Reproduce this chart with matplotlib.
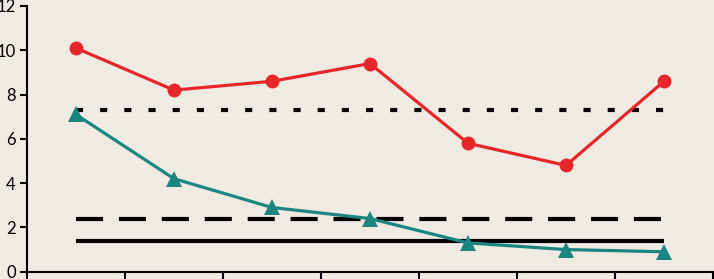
import matplotlib.pyplot as plt
import numpy as np

# values
categories = ["1", "2", "3", "4", "5", "6", "7"]
red_values = [10.1, 8.2, 8.6, 9.4, 5.8, 4.8, 8.6]
teal_values = [7.1, 4.2, 2.9, 2.4, 1.3, 1.0, 0.9]
dotted_level = 7.3
dashed_level = 2.4
solid_level = 1.4
y_ticks = [0, 2, 4, 6, 8, 10, 12]

bg = "#efebe3"
red = "#e8262a"
teal = "#1b8582"

plt.rcParams["font.family"] = ["Lato", "DejaVu Sans"]

fig = plt.figure(figsize=(7.14, 2.79), dpi=100, facecolor=bg)
ax = fig.add_axes([27 / 714, 7.3 / 279, 686 / 714, 265.7 / 279])
ax.set_facecolor(bg)

x = np.arange(len(categories))
first, last = x[0], x[-1]

# reference levels
ax.plot([first, last], [dotted_level] * 2, color="black", lw=3,
        linestyle=(0, (1.7, 4.1)), solid_capstyle="butt")
ax.plot([first, last], [dashed_level] * 2, color="black", lw=3,
        linestyle=(0, (6.5, 3.8)), solid_capstyle="butt")
ax.plot([first, last], [solid_level] * 2, color="black", lw=3,
        solid_capstyle="butt")

# series
ax.plot(x, red_values, color=red, lw=2.3, marker="o", markersize=10,
        markeredgewidth=0, zorder=3)
ax.plot(x, teal_values, color=teal, lw=2.3, marker="^", markersize=11,
        markeredgewidth=0, zorder=3)

ax.set_xlim(-0.5, len(categories) - 0.5)
ax.set_ylim(0, 12)
ax.set_xticks(np.arange(-0.5, len(categories)))
ax.set_xticklabels([])
ax.set_yticks(y_ticks)
ax.set_yticklabels([str(v) for v in y_ticks], fontsize=12)

for side in ("top", "right"):
    ax.spines[side].set_visible(False)
for side in ("left", "bottom"):
    ax.spines[side].set_linewidth(1.5)
    ax.spines[side].set_color("black")
ax.spines["bottom"].set_clip_on(False)
ax.tick_params(axis="both", direction="out", length=5, width=1.5, pad=3)

fig.savefig("out.png", dpi=100, facecolor=bg)
